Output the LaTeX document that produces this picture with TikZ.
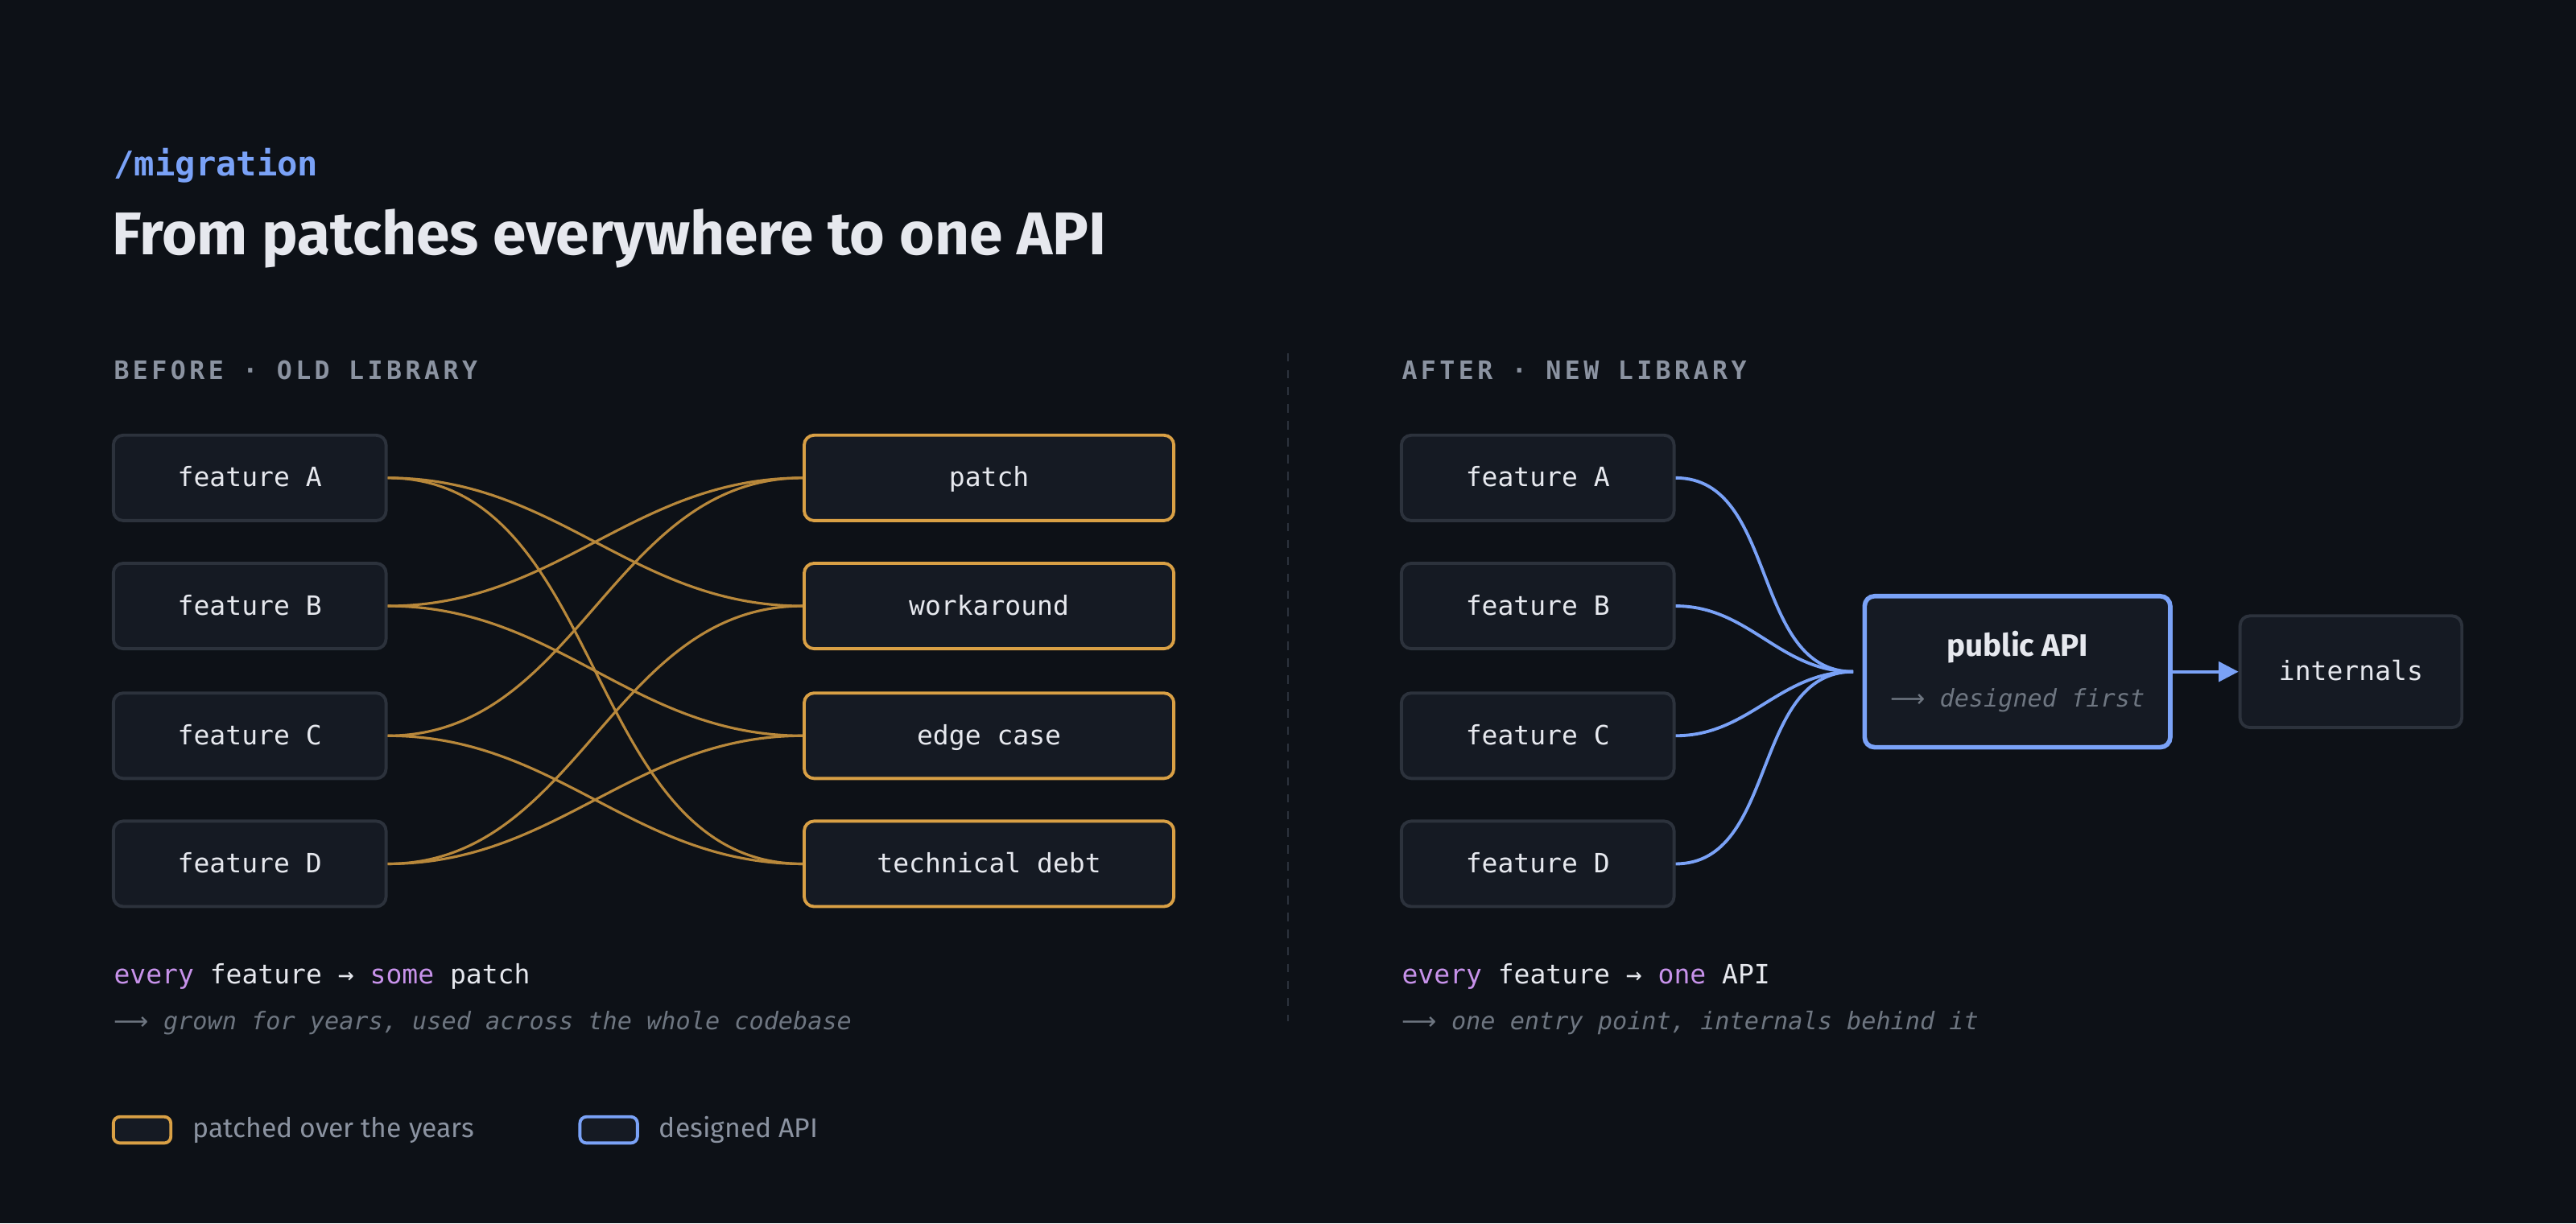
\documentclass[tikz,border=0pt]{standalone}
\usepackage{fontspec}
\setmainfont{Fira Sans}
\setsansfont{Fira Sans}
\setmonofont{DejaVu Sans Mono}
\newfontfamily\arrowfont{DejaVu Sans}
\usetikzlibrary{arrows.meta,positioning}
\definecolor{bg}{HTML}{0D1117}
\definecolor{boxfill}{HTML}{151A23}
\definecolor{boxline}{HTML}{2C323C}
\definecolor{patchc}{HTML}{D9A045}
\definecolor{apic}{HTML}{7AA2F7}
\definecolor{txt}{HTML}{E6E8EE}
\definecolor{dim}{HTML}{8B93A1}
\definecolor{faint}{HTML}{6E7681}
\definecolor{kw}{HTML}{C792EA}
\newcommand{\pu}{0.02041cm}
\newcommand{\longarr}{{\arrowfont\upshape ⟶}}
\tikzset{
  box/.style={draw=boxline, fill=boxfill, rounded corners=6*\pu, line width=1.1pt,
    minimum width=166*\pu, minimum height=52*\pu, text=txt, text height=1.6ex, text depth=0.4ex,
    font=\ttfamily\fontsize{9.4}{11}\selectfont},
  patchbox/.style={box, draw=patchc, minimum width=225*\pu},
  apibox/.style={box, draw=apic, line width=1.6pt, minimum width=186*\pu, minimum height=92*\pu,
    align=center, text height=, text depth=},
  wire/.style={draw=patchc!85!black, line width=0.9pt},
  apiwire/.style={draw=apic, line width=1.1pt},
  heading/.style={anchor=base west, inner sep=0pt, text=dim, font=\ttfamily\bfseries\fontsize{9}{11}\selectfont\addfontfeature{LetterSpace=14}},
  caption/.style={anchor=base west, inner sep=0pt, text=txt, font=\ttfamily\fontsize{9.4}{11}\selectfont},
  note/.style={anchor=base west, inner sep=0pt, text=faint, font=\ttfamily\itshape\fontsize{8.6}{11}\selectfont},
  legbox/.style={draw, fill=boxfill, rounded corners=4*\pu, line width=1.1pt, minimum width=35*\pu, minimum height=16*\pu},
  legtext/.style={anchor=west, inner sep=0pt, text=dim, font=\sffamily\fontsize{9.6}{11}\selectfont}
}
\begin{document}
\begin{tikzpicture}[x=0.02041cm, y=-0.02041cm]
  \fill[bg] (0,0) rectangle (1568,745);
  \useasboundingbox (0,0) rectangle (1568,745);

  % header
  \node[anchor=base west, inner sep=0pt, text=apic, font=\ttfamily\bfseries\fontsize{12}{14}\selectfont] (tag) at (69,107) {/migration};
  \node[anchor=base west, inner sep=0pt, text=txt, font=\sffamily\bfseries\fontsize{21.3}{24}\selectfont] (title) at (68,155) {From patches everywhere to one API};

  % before
  \node[heading] (hbefore) at (69,231) {BEFORE · OLD LIBRARY};
  \node[box] (fa) at (152,291) {feature A};
  \node[box] (fb) at (152,369) {feature B};
  \node[box] (fc) at (152,448) {feature C};
  \node[box] (fd) at (152,526) {feature D};
  \node[patchbox] (pa) at (602,291) {patch};
  \node[patchbox] (wk) at (602,369) {workaround};
  \node[patchbox] (ec) at (602,448) {edge case};
  \node[patchbox] (td) at (602,526) {technical debt};
  \foreach \f/\p in {fa/wk, fa/td, fb/pa, fb/ec, fc/pa, fc/td, fd/wk, fd/ec}
    \draw[wire] (\f.east) to[out=0, in=180] (\p.west);

  \node[caption] (cbefore) at (69,599) {\textcolor{kw}{every} feature → \textcolor{kw}{some} patch};
  \node[note] (nbefore) at (69,627) {\longarr{} grown for years, used across the whole codebase};

  % divider
  \draw[boxline, dashed, line width=0.8pt] (784,215) -- (784,622);

  % after
  \node[heading] (hafter) at (853,231) {AFTER · NEW LIBRARY};
  \node[box] (ga) at (936,291) {feature A};
  \node[box] (gb) at (936,369) {feature B};
  \node[box] (gc) at (936,448) {feature C};
  \node[box] (gd) at (936,526) {feature D};
  \node[apibox] (api) at (1228,409) {{\sffamily\bfseries\fontsize{11}{13}\selectfont public API}\\[7pt]
    {\color{faint}\itshape\fontsize{8.6}{11}\selectfont\longarr{} designed first}};
  \node[box, minimum width=135*\pu, minimum height=68*\pu] (int) at (1431,409) {internals};
  \coordinate (hub) at (1128,409);
  \foreach \g in {ga, gb, gc, gd}
    \draw[apiwire] (\g.east) to[out=0, in=180] (hub);
  \draw[apiwire, -{Triangle[length=7pt, width=7pt]}] (api.east) -- (int.west);

  \node[caption] (cafter) at (853,599) {\textcolor{kw}{every} feature → \textcolor{kw}{one} API};
  \node[note] (nafter) at (853,627) {\longarr{} one entry point, internals behind it};

  % legend
  \node[legbox, draw=patchc] (lp) at (86.5,688) {};
  \node[legtext, right=12*\pu of lp] (lpt) {patched over the years};
  \node[legbox, draw=apic] (la) at (370.5,688) {};
  \node[legtext, right=12*\pu of la] (lat) {designed API};
\end{tikzpicture}
\end{document}
